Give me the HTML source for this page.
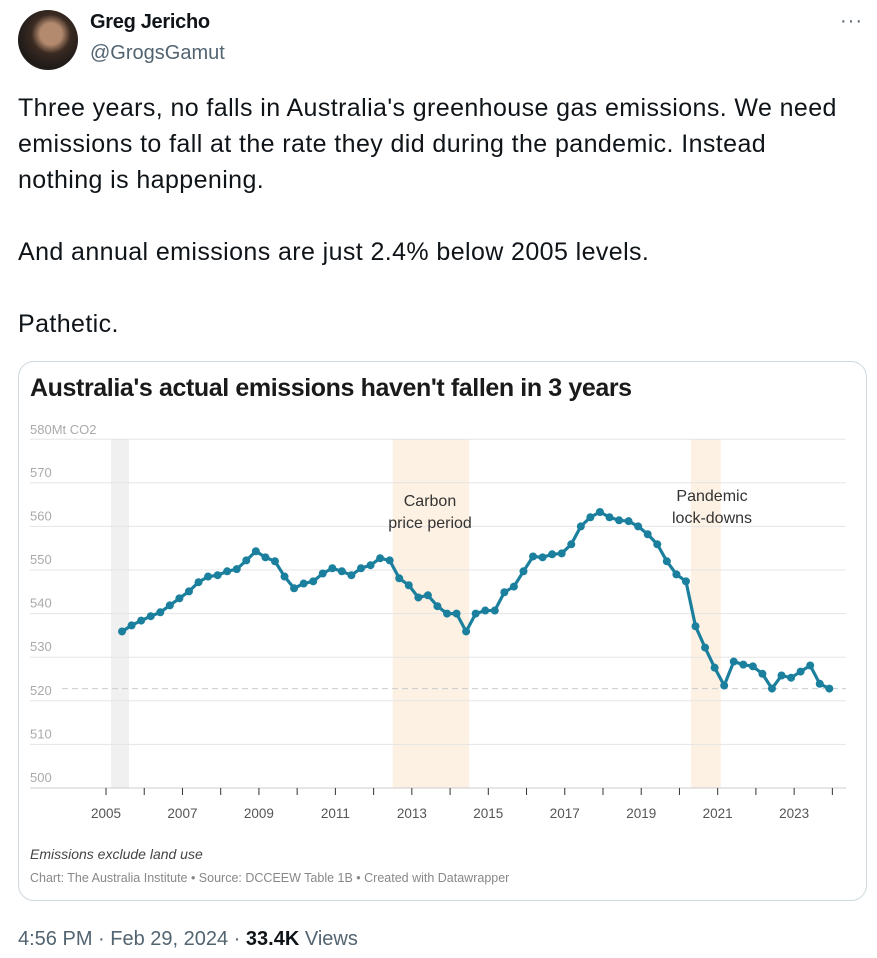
<!DOCTYPE html>
<html><head><meta charset="utf-8"><style>
*{margin:0;padding:0;box-sizing:border-box}
body{width:877px;height:958px;background:#fff;font-family:"Liberation Sans",sans-serif;color:#0f1419;position:relative;overflow:hidden}
.abs{position:absolute}
</style></head><body>
<div class="abs" style="left:18px;top:10px;width:60px;height:60px;border-radius:50%;background:radial-gradient(circle at 55% 40%,#b48a6e 0 22%,#3a2a22 40%,#1d1a18 70%,#5a4a3c 100%)"></div>
<div class="abs" style="left:90px;top:11px;font-size:20px;font-weight:bold;letter-spacing:-0.3px">Greg Jericho</div>
<div class="abs" style="left:90px;top:42px;font-size:20px;color:#536471">@GrogsGamut</div>
<div class="abs" style="left:840px;top:10px;font-size:20px;color:#536471;letter-spacing:1px">···</div>
<div class="abs" style="left:18px;top:90px;width:858px;white-space:nowrap;font-size:25px;line-height:36px;letter-spacing:0.4px">Three years, no falls in Australia's greenhouse gas emissions. We need<br>emissions to fall at the rate they did during the pandemic. Instead<br>nothing is happening.<br><br>And annual emissions are just 2.4% below 2005 levels.<br><br>Pathetic.</div>
<div class="abs" style="left:18px;top:361px;width:849px;height:540px;border:1px solid #cfd9de;border-radius:16px"></div>
<div class="abs" style="left:30px;top:374px;font-size:25px;font-weight:bold;color:#1a1a1a;letter-spacing:-0.4px">Australia's actual emissions haven't fallen in 3 years</div>
<svg class="abs" style="left:0;top:0" width="877" height="958" id="chart"></svg>
<div class="abs" style="left:30px;top:846px;font-size:14px;font-style:italic;color:#444">Emissions exclude land use</div>
<div class="abs" style="left:30px;top:871px;font-size:12.5px;color:#888">Chart: The Australia Institute • Source: DCCEEW Table 1B • Created with Datawrapper</div>
<div class="abs" style="left:18px;top:928px;font-size:20px;color:#536471">4:56 PM · Feb 29, 2024 · <b style="color:#0f1419">33.4K</b> Views</div>
<script>
const yTicks=[500,510,520,530,540,550,560,570];
const xTickYears=[2005,2007,2009,2011,2013,2015,2017,2019,2021,2023];
const startYear=2005.42;
const emissions=[535.9,537.3,538.4,539.4,540.3,541.9,543.5,545.1,547.2,548.5,548.8,549.7,550.2,552.2,554.3,552.9,552.0,548.5,545.8,546.9,547.4,549.2,550.4,549.7,548.8,550.4,551.1,552.7,552.2,548.1,546.5,543.7,544.2,541.7,540.0,540.0,535.9,540.0,540.7,540.7,544.9,546.2,549.7,553.1,552.9,553.6,553.8,555.9,560.0,562.1,563.3,562.1,561.4,561.2,560.0,558.2,555.9,552.0,549.0,547.4,537.1,532.2,527.6,523.5,529.0,528.3,527.9,526.2,522.8,525.8,525.3,526.7,528.1,523.9,522.8];
const bands=[[2005.13,2005.6,'#f0f0f0','baseline-band'],[2012.5,2014.5,'#fdf1e3','carbon-price-band'],[2020.3,2021.08,'#fdf1e3','pandemic-band']];
const baseline=522.8;
const xs=y=>106+(y-2005)*38.23;
const ys=v=>788-(v-500)*4.36;
const svg=document.getElementById('chart');const NS='http://www.w3.org/2000/svg';
function mk(t,a){const e=document.createElementNS(NS,t);for(const k in a)e.setAttribute(k,a[k]);svg.appendChild(e);return e;}
bands.forEach(b=>{const r=mk('rect',{x:xs(b[0]),y:439,width:xs(b[1])-xs(b[0]),height:349,fill:b[2]});

});
let t=mk('text',{x:30,y:ys(580)-5,'font-size':13,fill:'#aaa','font-family':'Liberation Sans'});t.textContent='580Mt CO2';
mk('line',{x1:30,x2:846,y1:ys(580),y2:ys(580),stroke:'#e5e5e5'});
yTicks.forEach(v=>{if(v!==500)mk('line',{x1:30,x2:846,y1:ys(v),y2:ys(v),stroke:'#e5e5e5'});
const l=mk('text',{x:30,y:ys(v)-6,'font-size':13,fill:'#aaa','font-family':'Liberation Sans'});l.textContent=v;

});
mk('line',{x1:62,x2:846,y1:ys(baseline),y2:ys(baseline),stroke:'#ccc','stroke-dasharray':'6,4'});
mk('line',{x1:30,x2:846,y1:788,y2:788,stroke:'#ccc'});
for(let y=2005;y<=2024;y++)mk('line',{x1:xs(y),x2:xs(y),y1:788,y2:795,stroke:'#333'});
xTickYears.forEach(y=>{const l=mk('text',{x:xs(y),y:818,'font-size':13.5,fill:'#555','text-anchor':'middle','font-family':'Liberation Sans'});l.textContent=y;

});
[['Carbon',430,506],['price period',430,528],['Pandemic',712,501],['lock-downs',712,523]].forEach(a=>{const l=mk('text',{x:a[1],y:a[2],'font-size':16,fill:'#333','text-anchor':'middle','font-family':'Liberation Sans'});l.textContent=a[0];

});
const pts=emissions.map((v,i)=>[xs(startYear+i*0.25),ys(v)]);
const p=mk('polyline',{points:pts.map(q=>q.join(',')).join(' '),fill:'none',stroke:'#1b7f9e','stroke-width':3.2,'stroke-linejoin':'round'});


pts.forEach(q=>{const c=mk('circle',{cx:q[0],cy:q[1],r:4,fill:'#1b7f9e'});

});
</script>
</body></html>
